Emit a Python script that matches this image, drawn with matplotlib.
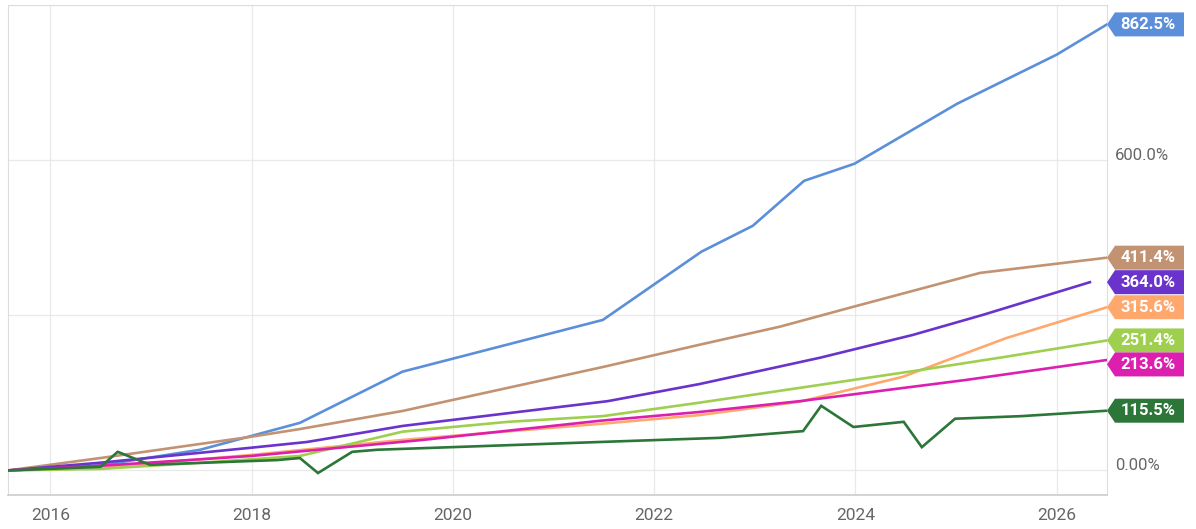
import matplotlib
matplotlib.use("Agg")
import matplotlib.pyplot as plt
from matplotlib.patches import Polygon
from matplotlib.transforms import IdentityTransform

plt.rcParams['font.family'] = ['Roboto', 'DejaVu Sans']

# data (decimal year, cumulative return in %)
blue_x = [2015.58, 2016.5, 2017.49, 2018.48, 2019.5, 2021.49, 2022.47, 2022.98, 2023.49, 2023.99, 2025.01, 2026.0, 2026.5]
blue_y = [0, 10, 40, 92, 191, 291, 423, 473, 560, 593, 709, 804, 862.5]

brown_x = [2015.58, 2016.5, 2017.99, 2018.48, 2019.5, 2021.49, 2022.45, 2023.25, 2023.97, 2025.24, 2026.5]
brown_y = [0, 24, 65, 80, 115, 200, 243, 278, 316, 382, 411.4]

purple_x = [2015.58, 2016.5, 2018.0, 2018.55, 2019.5, 2021.54, 2022.45, 2023.65, 2024.57, 2025.27, 2026.33]
purple_y = [0, 15, 44, 55, 86, 134, 167, 218, 262, 301, 364.0]

orange_x = [2015.58, 2016.5, 2018.0, 2019.5, 2021.46, 2022.45, 2023.45, 2024.47, 2025.5, 2026.5]
orange_y = [0, 5, 30, 59, 90, 107, 133, 181, 256, 315.6]

green_x = [2015.58, 2016.5, 2017.5, 2018.48, 2019.5, 2020.55, 2021.49, 2022.45, 2024.64, 2025.5, 2026.5]
green_y = [0, 3, 15, 28, 75, 94, 105, 131, 194, 220, 251.4]

magenta_x = [2015.58, 2016.5, 2018.0, 2019.7, 2021.46, 2022.45, 2023.45, 2025.1, 2026.5]
magenta_y = [0, 9, 28, 59, 96, 113, 134, 175, 213.6]

dkgreen_x = [2015.58, 2016.5, 2016.67, 2016.99, 2018.25, 2018.48, 2018.66, 2019.0, 2019.25, 2021.46,
             2022.65, 2023.48, 2023.66, 2023.98, 2024.48, 2024.66, 2024.99, 2025.65, 2026.5]
dkgreen_y = [0, 7, 36, 11, 20, 24, -5, 36, 40, 55,
             63, 76, 125, 84, 94, 45, 100, 105, 115.5]

year_ticks = [2016, 2018, 2020, 2022, 2024, 2026]
pct_ticks = [0, 300, 600, 900]
pct_labels = ['0.00%', '', '600.0%', '']

series = [
    (blue_x, blue_y, '#5b8fda'),
    (brown_x, brown_y, '#c29373'),
    (purple_x, purple_y, '#6a33cc'),
    (orange_x, orange_y, '#ffa86e'),
    (green_x, green_y, '#9fcf4f'),
    (magenta_x, magenta_y, '#dd1fb0'),
    (dkgreen_x, dkgreen_y, '#2b7638'),
]

W, H = 1196, 529
fig = plt.figure(figsize=(W / 100, H / 100), dpi=100)
ax = fig.add_axes([8 / W, (H - 495) / H, 1099 / W, 490 / H])

for xs, ys, c in series:
    ax.plot(xs, ys, color=c, lw=1.9, solid_joinstyle='miter', zorder=3)

ax.set_xlim(2015.58, 2026.5)
ax.set_ylim(-47.5, 900)
ax.set_xticks(year_ticks)
ax.set_xticklabels([str(y) for y in year_ticks])
ax.set_yticks(pct_ticks)
ax.set_yticklabels(pct_labels)
ax.yaxis.tick_right()
ax.tick_params(axis='x', length=0, pad=9, labelsize=12.5, labelcolor='#666666')
ax.tick_params(axis='y', length=0, pad=6, labelsize=12, labelcolor='#666666')
for lab in ax.get_yticklabels():
    lab.set_verticalalignment('baseline')
ax.grid(True, color='#e9e9e9', lw=0.9)
ax.set_axisbelow(True)
for side in ['left', 'top', 'right']:
    ax.spines[side].set_color('#dddddd')
ax.spines['bottom'].set_color('#cccccc')
ax.spines['bottom'].set_linewidth(1.2)

# end-value tags on the right edge
xr = ax.transAxes.transform((1, 0))[0]
tags = []
for xs, ys, c in series:
    yc = ax.transData.transform((xs[-1], ys[-1]))[1]
    tags.append([yc, ys[-1], c])
tags.sort(key=lambda t: -t[0])
th = 24
for i in range(1, len(tags)):
    if tags[i - 1][0] - tags[i][0] < th:
        tags[i][0] = tags[i - 1][0] - th
for yc, v, c in tags:
    poly = Polygon([(xr, yc), (xr + 8, yc + th / 2), (xr + 77, yc + th / 2),
                    (xr + 77, yc - th / 2), (xr + 8, yc - th / 2)],
                   closed=True, facecolor=c, edgecolor='none',
                   transform=IdentityTransform(), clip_on=False, zorder=5)
    fig.add_artist(poly)
    fig.text(xr + 41, yc, f"{v:.1f}%", transform=IdentityTransform(), color='white',
             fontsize=12, fontweight='bold', ha='center', va='center', zorder=6)

fig.savefig('out.png', dpi=100)
